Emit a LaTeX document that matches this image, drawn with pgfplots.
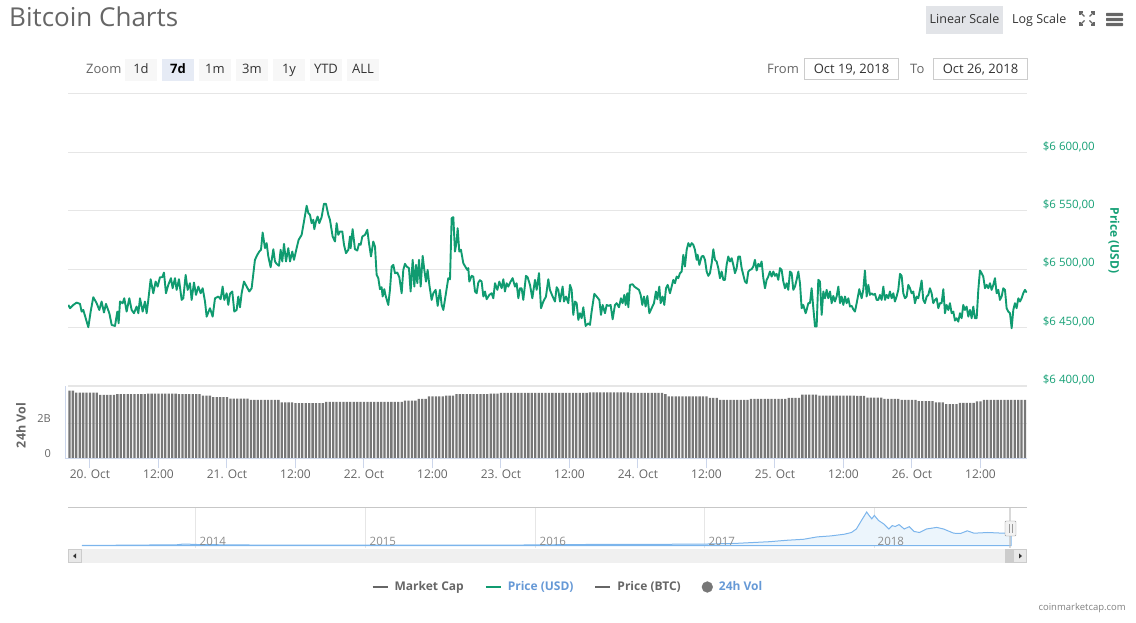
\documentclass[border=0pt]{standalone}
\usepackage{pgfplots}
\pgfplotsset{compat=1.18}
\usepackage{fontspec}
\setmainfont{Open Sans}
\definecolor{pgreen}{RGB}{16,155,112}
\definecolor{lgreen}{RGB}{22,160,118}
\definecolor{tgray}{RGB}{102,102,102}
\definecolor{vgray}{RGB}{119,119,119}
\definecolor{ggray}{RGB}{230,230,230}
\definecolor{ablue}{RGB}{204,214,235}
\definecolor{navline}{RGB}{124,181,236}
\definecolor{navfill}{RGB}{236,245,252}
\definecolor{lblue}{RGB}{102,153,214}
\definecolor{btnbg}{RGB}{247,247,247}
\definecolor{btnsel}{RGB}{230,235,245}
\definecolor{scalebg}{RGB}{226,228,232}
\definecolor{dtext}{RGB}{51,51,51}
\newcommand\fs[1]{\fontsize{#1}{#1}\selectfont}

\pgfplotstableread{
h p
-3.80 6469.4
-3.50 6466.6
-2.92 6469.4
-2.34 6471.4
-1.75 6470.3
-1.46 6463.7
-1.17 6465.1
-0.29 6450.3
0.12 6463.7
0.58 6476.0
1.17 6470.9
1.63 6465.1
2.04 6472.3
2.45 6462.9
2.80 6470.3
3.39 6462.3
3.80 6452.3
4.38 6451.4
4.79 6463.7
5.02 6453.7
5.26 6472.3
5.72 6470.9
6.01 6475.1
6.42 6463.7
6.89 6475.1
7.30 6465.1
7.71 6462.3
8.17 6468.0
8.47 6462.3
8.76 6475.1
9.23 6463.7
9.63 6472.3
9.93 6462.3
10.22 6473.7
10.63 6491.4
11.09 6479.4
11.50 6489.4
11.85 6485.1
12.26 6493.1
12.67 6493.1
12.96 6497.1
13.31 6479.4
13.72 6486.6
14.19 6492.3
14.48 6483.7
14.89 6492.3
15.18 6482.3
15.59 6491.4
16.06 6473.7
16.35 6475.1
16.76 6495.1
17.11 6482.3
17.52 6488.0
17.81 6473.7
18.22 6488.6
18.57 6478.0
18.98 6485.1
19.39 6479.4
19.74 6483.7
20.15 6472.3
20.44 6459.4
21.02 6466.6
21.49 6459.4
21.90 6475.1
22.48 6476.6
22.89 6474.3
23.24 6485.1
23.53 6473.7
23.94 6479.4
24.23 6469.4
24.53 6478.9
24.93 6480.9
25.28 6463.7
25.69 6465.1
25.98 6476.6
26.28 6467.4
26.57 6479.4
26.98 6489.4
27.45 6485.1
27.91 6480.9
28.32 6483.7
28.90 6508.0
29.31 6512.3
29.66 6515.1
29.96 6516.6
30.25 6531.4
30.66 6518.0
30.95 6522.3
31.24 6510.9
31.65 6501.7
32.12 6517.1
32.41 6506.6
32.70 6504.6
33.11 6502.9
33.40 6516.6
33.69 6506.6
33.99 6521.7
34.34 6506.6
34.74 6518.0
35.04 6506.6
35.44 6515.1
35.74 6508.0
36.20 6518.0
36.55 6525.1
37.08 6529.4
37.49 6540.9
37.96 6554.3
38.25 6548.0
38.54 6546.6
38.83 6539.4
39.12 6542.3
39.30 6534.3
39.59 6540.9
39.88 6545.1
40.17 6539.4
40.58 6544.6
40.99 6556.0
41.34 6556.0
41.75 6546.6
42.04 6542.3
42.51 6528.0
42.92 6523.7
43.21 6539.4
43.50 6529.4
43.80 6532.3
44.20 6532.3
44.50 6520.9
44.85 6513.7
45.26 6516.6
45.55 6528.0
45.66 6518.0
46.01 6534.3
46.42 6517.1
46.83 6516.0
47.12 6521.7
47.42 6520.9
47.71 6528.0
48.18 6529.4
48.58 6533.7
48.88 6522.3
49.23 6510.9
49.63 6523.7
49.93 6519.4
50.22 6495.1
50.51 6492.3
50.80 6482.9
51.09 6484.6
51.27 6476.6
51.56 6482.9
51.80 6477.1
52.26 6469.4
52.55 6482.3
52.85 6502.3
53.14 6503.7
53.43 6496.6
53.84 6497.1
54.19 6493.1
54.60 6479.4
54.89 6499.4
55.18 6504.6
55.47 6502.3
55.88 6500.9
56.17 6480.9
56.53 6508.0
56.82 6485.1
57.11 6503.7
57.34 6488.0
57.64 6508.0
57.93 6485.1
58.28 6511.4
58.57 6499.4
58.86 6489.4
59.15 6499.4
59.45 6486.6
59.85 6473.7
60.15 6479.4
60.55 6482.3
60.91 6468.6
61.31 6482.3
61.61 6469.4
61.90 6465.1
62.36 6479.4
62.77 6492.3
63.07 6491.4
63.36 6543.7
63.65 6544.6
63.94 6515.1
64.23 6523.7
64.41 6535.1
64.70 6515.1
64.99 6516.6
65.40 6505.1
65.81 6501.7
66.10 6499.4
66.28 6500.9
66.45 6489.4
66.86 6494.3
67.15 6493.7
67.45 6480.9
67.74 6479.4
68.03 6488.6
68.32 6490.6
68.61 6489.4
68.91 6476.6
69.20 6480.9
69.49 6474.3
69.96 6478.0
70.36 6479.4
70.66 6475.1
70.95 6488.0
71.36 6482.3
71.71 6489.4
72.12 6483.7
72.41 6491.4
72.70 6480.9
72.99 6488.0
73.28 6485.1
73.69 6489.4
74.04 6492.3
74.45 6485.1
74.74 6488.0
75.04 6475.1
75.33 6483.7
75.62 6483.7
75.91 6473.7
76.38 6494.3
76.67 6493.1
77.08 6486.6
77.49 6475.1
77.96 6490.9
78.25 6482.3
78.66 6496.6
79.01 6466.6
79.42 6472.3
79.88 6476.6
80.29 6491.4
80.58 6482.3
81.05 6476.6
81.46 6472.3
81.75 6484.6
82.04 6482.3
82.34 6472.3
82.80 6485.1
83.04 6472.3
83.39 6476.6
83.80 6470.9
84.09 6486.6
84.38 6482.3
84.67 6460.9
84.96 6472.3
85.26 6470.9
85.55 6456.6
85.84 6462.3
86.13 6458.0
86.42 6467.4
86.83 6451.4
87.30 6453.7
87.59 6452.3
87.88 6463.7
88.35 6478.9
88.76 6476.6
89.23 6473.7
89.52 6460.9
89.81 6469.4
90.22 6462.3
90.51 6469.4
90.92 6468.6
91.21 6469.4
91.56 6457.1
91.97 6469.4
92.26 6470.9
92.67 6467.4
93.02 6475.1
93.31 6470.9
93.61 6478.0
93.84 6469.4
94.13 6479.4
94.31 6467.4
94.60 6486.6
95.07 6487.1
95.36 6485.1
95.77 6483.7
96.18 6482.3
96.47 6478.0
96.76 6469.4
97.05 6476.6
97.34 6468.0
97.64 6477.1
97.99 6462.3
98.39 6466.6
98.80 6470.9
99.15 6480.9
99.39 6474.3
99.74 6485.1
99.97 6470.9
100.32 6476.6
100.61 6469.4
100.91 6483.7
101.20 6486.6
101.61 6479.4
101.90 6485.1
102.19 6490.9
102.48 6488.0
102.77 6493.7
103.07 6492.3
103.36 6496.6
103.65 6498.0
103.94 6512.3
104.23 6502.3
104.53 6516.6
104.82 6522.3
105.11 6519.4
105.40 6522.3
105.69 6520.9
105.98 6516.6
106.28 6508.0
106.45 6512.3
106.75 6503.7
107.15 6510.9
107.45 6511.4
107.74 6508.0
108.03 6498.0
108.32 6494.3
108.61 6496.6
108.91 6505.1
109.20 6517.1
109.49 6508.0
109.78 6506.6
110.07 6500.9
110.36 6492.3
110.66 6498.0
110.95 6490.9
111.24 6490.9
111.53 6503.7
111.82 6510.9
112.12 6506.6
112.41 6509.4
112.70 6503.7
112.99 6496.6
113.28 6500.9
113.58 6510.9
113.87 6510.9
114.16 6500.9
114.45 6495.1
114.74 6489.4
115.04 6488.0
115.33 6498.0
115.62 6499.4
115.91 6500.0
116.20 6502.3
116.49 6508.0
116.79 6498.9
117.08 6504.6
117.37 6502.3
117.66 6506.6
117.96 6492.3
118.25 6483.7
118.54 6490.9
118.83 6493.7
119.12 6498.0
119.42 6493.7
119.71 6498.0
120.00 6494.3
120.29 6496.0
120.58 6490.9
120.88 6500.9
121.17 6499.4
121.46 6489.4
121.75 6483.7
122.04 6488.0
122.33 6482.3
122.63 6498.0
122.92 6496.6
123.21 6482.3
123.50 6485.1
123.79 6490.9
124.09 6498.0
124.38 6488.0
124.67 6466.6
124.96 6469.4
125.37 6462.3
125.55 6465.1
125.84 6470.9
126.13 6470.9
126.42 6483.7
126.72 6466.6
127.01 6450.9
127.30 6450.9
127.59 6490.9
127.88 6489.4
128.18 6460.9
128.47 6480.9
128.76 6475.1
129.05 6482.3
129.34 6475.1
129.64 6480.9
129.93 6470.9
130.22 6477.1
130.51 6472.3
130.80 6476.6
131.10 6485.1
131.39 6470.9
131.68 6476.6
131.97 6469.4
132.26 6476.6
132.55 6470.9
132.85 6475.1
133.14 6468.0
133.43 6468.6
133.72 6465.7
134.01 6463.7
134.31 6470.9
134.77 6482.9
135.18 6475.1
135.47 6482.3
135.76 6498.9
136.06 6476.6
136.35 6486.6
136.64 6478.0
136.93 6479.4
137.22 6478.0
137.52 6478.9
137.81 6473.7
138.10 6473.7
138.39 6478.0
138.68 6473.7
138.98 6485.1
139.27 6473.7
139.56 6478.0
139.85 6475.1
140.14 6480.9
140.44 6475.1
140.73 6479.4
141.02 6472.3
141.31 6476.6
141.60 6482.3
141.90 6496.0
142.19 6494.3
142.48 6479.4
142.77 6475.1
143.06 6476.6
143.36 6486.6
143.65 6483.7
143.94 6479.4
144.23 6480.9
144.52 6470.9
144.82 6476.6
145.11 6475.1
145.40 6482.3
145.69 6490.3
145.98 6473.7
146.27 6470.9
146.57 6476.6
146.86 6478.0
147.15 6483.7
147.44 6479.4
147.73 6470.9
148.03 6473.7
148.32 6475.1
148.61 6466.6
148.90 6470.9
149.19 6470.9
149.49 6482.9
149.78 6462.3
150.07 6469.4
150.36 6465.1
150.65 6470.9
150.95 6462.3
151.24 6463.7
151.53 6456.0
151.82 6458.0
152.11 6455.1
152.41 6462.3
152.70 6458.0
152.99 6469.4
153.28 6465.1
153.57 6468.0
153.87 6459.4
154.16 6465.1
154.45 6458.0
154.74 6468.0
155.03 6458.0
155.33 6458.0
155.62 6482.3
155.91 6498.9
156.20 6496.6
156.49 6493.7
156.79 6483.7
157.08 6486.6
157.37 6483.7
157.66 6488.0
157.95 6482.3
158.25 6486.6
158.54 6492.3
158.83 6479.4
159.12 6482.3
159.41 6473.7
159.71 6476.6
160.00 6483.7
160.29 6482.3
160.58 6466.6
160.87 6463.7
161.17 6462.3
161.46 6449.4
161.75 6465.1
162.04 6470.9
162.33 6466.6
162.63 6475.1
162.92 6472.3
163.21 6475.1
163.50 6479.4
163.79 6482.3
164.09 6480.0
}\pricedata

\begin{document}
\begin{tikzpicture}[x=1pt,y=1pt]
\path[use as bounding box] (0,0) rectangle (1136,623);

% ---------- header ----------
\node[anchor=base west, inner sep=0, text=tgray, font=\fs{26}] at (9,596) {Bitcoin Charts};
\fill[scalebg] (926,589) rectangle (1003,617);
\node[anchor=base, inner sep=0, font=\fs{12.5}, text=dtext] at (964.5,599.5) {Linear Scale};
\node[anchor=base west, inner sep=0, font=\fs{12.5}, text=dtext] at (1012,599.5) {Log Scale};
\begin{scope}[draw=tgray, line width=1.3]
\draw (1080,608)--(1080,611)--(1083,611); \draw (1080,611)--(1084.5,606.5);
\draw (1094,608)--(1094,611)--(1091,611); \draw (1094,611)--(1089.5,606.5);
\draw (1080,601)--(1080,598)--(1083,598); \draw (1080,598)--(1084.5,602.5);
\draw (1094,601)--(1094,598)--(1091,598); \draw (1094,598)--(1089.5,602.5);
\end{scope}
\foreach \yy in {598.5,603.5,608.5} {\fill[tgray, rounded corners=0.8] (1106,\yy-1.6) rectangle (1123,\yy+1.6);}

\node[anchor=base west, inner sep=0, font=\fs{13}, text=tgray] at (86,549) {Zoom};
\foreach \xx/\tt in {125/1d,199/1m,236/3m,273/1y,310/YTD,347/ALL} {
  \fill[btnbg] (\xx,542) rectangle ++(32,22);
  \node[anchor=base, inner sep=0, font=\fs{13}, text=dtext] at (\xx+16,549) {\tt};
}
\fill[btnsel] (162,542) rectangle ++(32,22);
\node[anchor=base, inner sep=0, font=\fs{13}\bfseries, text=black] at (178,549) {7d};

\node[anchor=base west, inner sep=0, font=\fs{13}, text=tgray] at (767,549) {From};
\draw[black!20, fill=white] (804.5,543.5) rectangle (898.5,564.5);
\node[anchor=base, inner sep=0, font=\fs{13}, text=dtext] at (851.5,549) {Oct 19, 2018};
\node[anchor=base west, inner sep=0, font=\fs{13}, text=tgray] at (910,549) {To};
\draw[black!20, fill=white] (933.5,543.5) rectangle (1027.5,564.5);
\node[anchor=base, inner sep=0, font=\fs{13}, text=dtext] at (980.5,549) {Oct 26, 2018};

% ---------- price axis ----------
\begin{axis}[
  at={(68pt,237pt)}, anchor=south west, scale only axis,
  width=959pt, height=292pt,
  xmin=-3.85, xmax=164.15, ymin=6400, ymax=6650,
  axis line style={draw=none},
  xtick=\empty,
  ytick={6400,6450,6500,6550,6600,6650},
  yticklabels={{\$6 400,00},{\$6 450,00},{\$6 500,00},{\$6 550,00},{\$6 600,00},{}},
  yticklabel pos=right,
  ytick style={draw=none},
  ymajorgrids, grid style={ggray, line width=1pt},
  yticklabel style={anchor=west, inner sep=0pt, font=\fs{11.5}, text=lgreen, xshift=15.7pt, yshift=6pt},
  /pgf/number format/assume math mode=true,
  legend style={at={(0.5203,-0.6884)}, anchor=center, draw=none, fill=none,
    legend columns=4, font=\fs{12}\bfseries, inner sep=0pt,
    nodes={inner sep=0pt},
    /tikz/every odd column/.append style={column sep=6pt},
    /tikz/every even column/.append style={column sep=21pt}},
  legend image code/.code={\draw[#1] (0pt,0pt) -- (15pt,0pt);},
]
\addlegendimage{color=tgray, line width=2pt}
\addlegendentry{\textcolor{tgray}{Market Cap}}
\addlegendimage{color=pgreen, line width=2pt}
\addlegendentry{\textcolor{lblue}{Price (USD)}}
\addlegendimage{color=tgray, line width=2pt}
\addlegendentry{\textcolor{tgray}{Price (BTC)}}
\addlegendimage{legend image code/.code={\fill[vgray] (7.5pt,0pt) circle (5.4pt);}}
\addlegendentry{\textcolor{lblue}{24h Vol}}
\addplot[pgreen, line width=1.9pt, line join=round, forget plot] table[x=h, y=p] {\pricedata};
\end{axis}

% ---------- volume axis ----------
\begin{axis}[
  at={(68pt,164.7pt)}, anchor=south west, scale only axis,
  width=959pt, height=72.3pt,
  xmin=-3.85, xmax=164.15, ymin=0, ymax=4.13,
  axis line style={draw=none},
  xtick={0,12,24,36,48,60,72,84,96,108,120,132,144,156},
  xticklabels={20. Oct,12:00,21. Oct,12:00,22. Oct,12:00,23. Oct,12:00,24. Oct,12:00,25. Oct,12:00,26. Oct,12:00},
  xtick pos=bottom, xtick align=outside, major tick length=10pt,
  xtick style={ablue, line width=1pt},
  xticklabel style={font=\fs{12}, text=tgray, inner sep=0pt, anchor=center, yshift=-6pt},
  ytick={0,2}, yticklabels={0,2B}, ytick pos=left, ytick style={draw=none},
  ymajorgrids, grid style={ggray, line width=1pt},
  yticklabel style={font=\fs{11}, text=tgray, anchor=east, inner sep=0pt, xshift=-17pt, yshift=5pt},
  /pgf/number format/assume math mode=true,
  ybar, bar width=2.3pt,
]
\addplot[fill=vgray, draw=none] coordinates {
(-3.6,3.86)(-3.0,3.86)
(-2.4,3.75)(-1.8,3.75)(-1.2,3.75)(-0.6,3.75)(0,3.75)(0.6,3.75)(1.2,3.75)
(1.8,3.62)(2.4,3.62)(3.0,3.62)(3.6,3.62)(4.2,3.62)
(4.8,3.67)(5.4,3.67)(6.0,3.67)(6.6,3.67)(7.2,3.67)(7.8,3.67)(8.4,3.67)(9.0,3.67)(9.6,3.67)
(10.2,3.70)(10.8,3.70)(11.4,3.70)(12.0,3.70)(12.6,3.70)(13.2,3.70)(13.8,3.70)(14.4,3.70)(15.0,3.70)
(15.6,3.66)(16.2,3.66)(16.8,3.66)(17.4,3.66)(18.0,3.66)(18.6,3.66)(19.2,3.66)
(19.8,3.58)(20.4,3.58)(21.0,3.58)
(21.6,3.50)(22.2,3.50)(22.8,3.50)(23.4,3.50)(24.0,3.50)
(24.6,3.41)(25.2,3.41)(25.8,3.41)(26.4,3.41)(27.0,3.41)(27.6,3.41)
(28.2,3.33)(28.8,3.33)(29.4,3.33)(30.0,3.33)(30.6,3.33)(31.2,3.33)(31.8,3.33)(32.4,3.33)(33.0,3.33)
(33.6,3.20)(34.2,3.20)(34.8,3.20)(35.4,3.20)
(36.0,3.15)(36.6,3.15)(37.2,3.15)(37.8,3.15)(38.4,3.15)(39.0,3.15)(39.6,3.15)(40.2,3.15)(40.8,3.15)
(41.4,3.22)(42.0,3.22)(42.6,3.22)(43.2,3.22)(43.8,3.22)(44.4,3.22)(45.0,3.22)(45.6,3.22)(46.2,3.22)(46.8,3.22)
(47.4,3.22)(48.0,3.22)(48.6,3.22)(49.2,3.22)(49.8,3.22)(50.4,3.22)(51.0,3.22)(51.6,3.22)(52.2,3.22)(52.8,3.22)
(53.4,3.22)(54.0,3.22)(54.6,3.22)
(55.2,3.30)(55.8,3.30)(56.4,3.30)(57.0,3.30)
(57.6,3.39)(58.2,3.39)(58.8,3.39)
(59.4,3.53)(60.0,3.53)(60.6,3.53)(61.2,3.53)(61.8,3.53)
(62.4,3.58)(63.0,3.58)(63.6,3.58)
(64.2,3.66)(64.8,3.66)(65.4,3.66)(66.0,3.66)(66.6,3.66)(67.2,3.66)(67.8,3.66)(68.4,3.66)(69.0,3.66)(69.6,3.66)
(70.2,3.70)(70.8,3.70)(71.4,3.70)
(72.0,3.74)(72.6,3.74)(73.2,3.74)(73.8,3.74)(74.4,3.74)(75.0,3.74)(75.6,3.74)(76.2,3.74)(76.8,3.74)(77.4,3.74)
(78.0,3.74)(78.6,3.74)(79.2,3.74)(79.8,3.74)(80.4,3.74)(81.0,3.74)(81.6,3.74)(82.2,3.74)(82.8,3.74)(83.4,3.74)
(84.0,3.74)(84.6,3.74)(85.2,3.74)(85.8,3.74)(86.4,3.74)(87.0,3.74)
(87.6,3.77)(88.2,3.77)(88.8,3.77)(89.4,3.77)(90.0,3.77)(90.6,3.77)(91.2,3.77)(91.8,3.77)(92.4,3.77)(93.0,3.77)(93.6,3.77)(94.2,3.77)
(94.8,3.74)(95.4,3.74)(96.0,3.74)(96.6,3.74)(97.2,3.74)(97.8,3.74)(98.4,3.74)(99.0,3.74)(99.6,3.74)(100.2,3.74)
(100.8,3.66)
(101.4,3.54)(102.0,3.54)(102.6,3.54)(103.2,3.54)(103.8,3.54)(104.4,3.54)(105.0,3.54)(105.6,3.54)(106.2,3.54)(106.8,3.54)(107.4,3.54)(108.0,3.54)
(108.6,3.45)(109.2,3.45)(109.8,3.45)
(110.4,3.33)(111.0,3.33)(111.6,3.33)(112.2,3.33)(112.8,3.33)(113.4,3.33)(114.0,3.33)(114.6,3.33)(115.2,3.33)
(115.8,3.40)(116.4,3.40)(117.0,3.40)(117.6,3.40)(118.2,3.40)(118.8,3.40)(119.4,3.40)(120.0,3.40)(120.6,3.40)(121.2,3.40)(121.8,3.40)
(122.4,3.45)(123.0,3.45)(123.6,3.45)(124.2,3.45)
(124.8,3.64)(125.4,3.64)(126.0,3.64)(126.6,3.64)(127.2,3.64)
(127.8,3.58)(128.4,3.58)(129.0,3.58)(129.6,3.58)(130.2,3.58)(130.8,3.58)(131.4,3.58)(132.0,3.58)(132.6,3.58)(133.2,3.58)(133.8,3.58)
(134.4,3.56)(135.0,3.56)(135.6,3.56)
(136.2,3.46)(136.8,3.46)(137.4,3.46)(138.0,3.46)(138.6,3.46)
(139.2,3.39)(139.8,3.39)(140.4,3.39)(141.0,3.39)(141.6,3.39)
(142.2,3.33)(142.8,3.33)(143.4,3.33)(144.0,3.33)(144.6,3.33)
(145.2,3.27)(145.8,3.27)(146.4,3.27)(147.0,3.27)(147.6,3.27)
(148.2,3.20)(148.8,3.20)(149.4,3.20)
(150.0,3.09)(150.6,3.09)(151.2,3.09)(151.8,3.09)
(152.4,3.16)(153.0,3.16)(153.6,3.16)(154.2,3.16)(154.8,3.16)
(155.4,3.25)(156.0,3.25)
(156.6,3.33)(157.2,3.33)(157.8,3.33)(158.4,3.33)(159.0,3.33)(159.6,3.33)(160.2,3.33)(160.8,3.33)(161.4,3.33)(162.0,3.33)(162.6,3.33)(163.2,3.33)(163.8,3.33)
};
\end{axis}
\draw[ggray, line width=2pt] (68,237)--(1027,237);
\draw[ablue, line width=1pt] (65,164.7)--(65,237);
\draw[ablue, line width=1pt] (65,164.7)--(1027,164.7);
\node[rotate=90, inner sep=0, font=\fs{12.5}\bfseries, text=tgray] at (21,197.5) {24h Vol};
\node[rotate=-90, inner sep=0, font=\fs{12}\bfseries, text=lgreen] at (1114,382.5) {Price (USD)};

% ---------- navigator ----------
\begin{axis}[
  at={(68pt,75pt)}, anchor=south west, scale only axis,
  width=959pt, height=40pt,
  xmin=2013.247, xmax=2018.9, ymin=-22.7, ymax=364.9,
  axis line style={draw=none},
  xtick={2014,2015,2016,2017,2018}, xticklabel=\empty,
  ytick=\empty, tick style={draw=none},
  xmajorgrids, grid style={ggray, line width=1pt},
]
\addplot[navline, line width=1pt, fill=navfill] coordinates {
(2013.332,1.5)(2013.888,8.3)(2013.929,16.0)(2014.023,10.2)(2014.318,6.3)(2015.224,4.4)(2015.790,4.4)
(2016.376,12.2)(2016.965,14.1)(2017.181,21.8)(2017.382,38.3)(2017.482,51.9)(2017.582,61.6)(2017.663,84.8)
(2017.744,94.5)(2017.824,111)(2017.865,127.5)(2017.894,161.4)(2017.924,243.7)(2017.955,326)(2017.969,293)
(2017.985,260)(2018.000,293)(2018.025,243.7)(2018.056,209.8)(2018.086,161.4)(2018.106,194.3)(2018.123,185.6)
(2018.146,204)(2018.176,161.4)(2018.206,183.7)(2018.235,137.2)(2018.267,127.5)(2018.307,161.4)(2018.368,176.9)
(2018.408,161.4)(2018.468,120.7)(2018.508,117.8)(2018.548,143.9)(2018.588,120.7)(2018.669,127.5)(2018.759,120.7)(2018.806,120.7)
} \closedcycle;
\end{axis}
\draw[black!22, line width=1pt] (68,115)--(1027,115);
\foreach \xx/\yr in {199.5/2014,369.5/2015,539.5/2016,708.5/2017,877.5/2018} {
  \node[anchor=base west, inner sep=0, font=\fs{11.5}, text=black!45] at (\xx,77.5) {\yr};
}
\fill[black!25, opacity=0.6] (1008.5,75) rectangle (1011,115);
\draw[black!40, fill=black!5, rounded corners=1] (1005,87) rectangle (1016,102);
\draw[black!40] (1009.3,90) -- (1009.3,99);
\draw[black!40] (1011.7,90) -- (1011.7,99);

% scrollbar
\fill[black!6] (68,60) rectangle (1027,74);
\draw[black!20, fill=black!9] (68.5,60.5) rectangle (81.5,73.5);
\fill[dtext] (73,67) -- (76,69.5) -- (76,64.5) -- cycle;
\fill[black!20] (1005,60) rectangle (1014,74);
\draw[black!20, fill=black!9] (1013.5,60.5) rectangle (1026.5,73.5);
\fill[dtext] (1022,67) -- (1019,69.5) -- (1019,64.5) -- cycle;

% credit
\node[anchor=base east, inner sep=0, font=\fs{9.5}, text=black!50] at (1126,12) {coinmarketcap.com};
\end{tikzpicture}
\end{document}
